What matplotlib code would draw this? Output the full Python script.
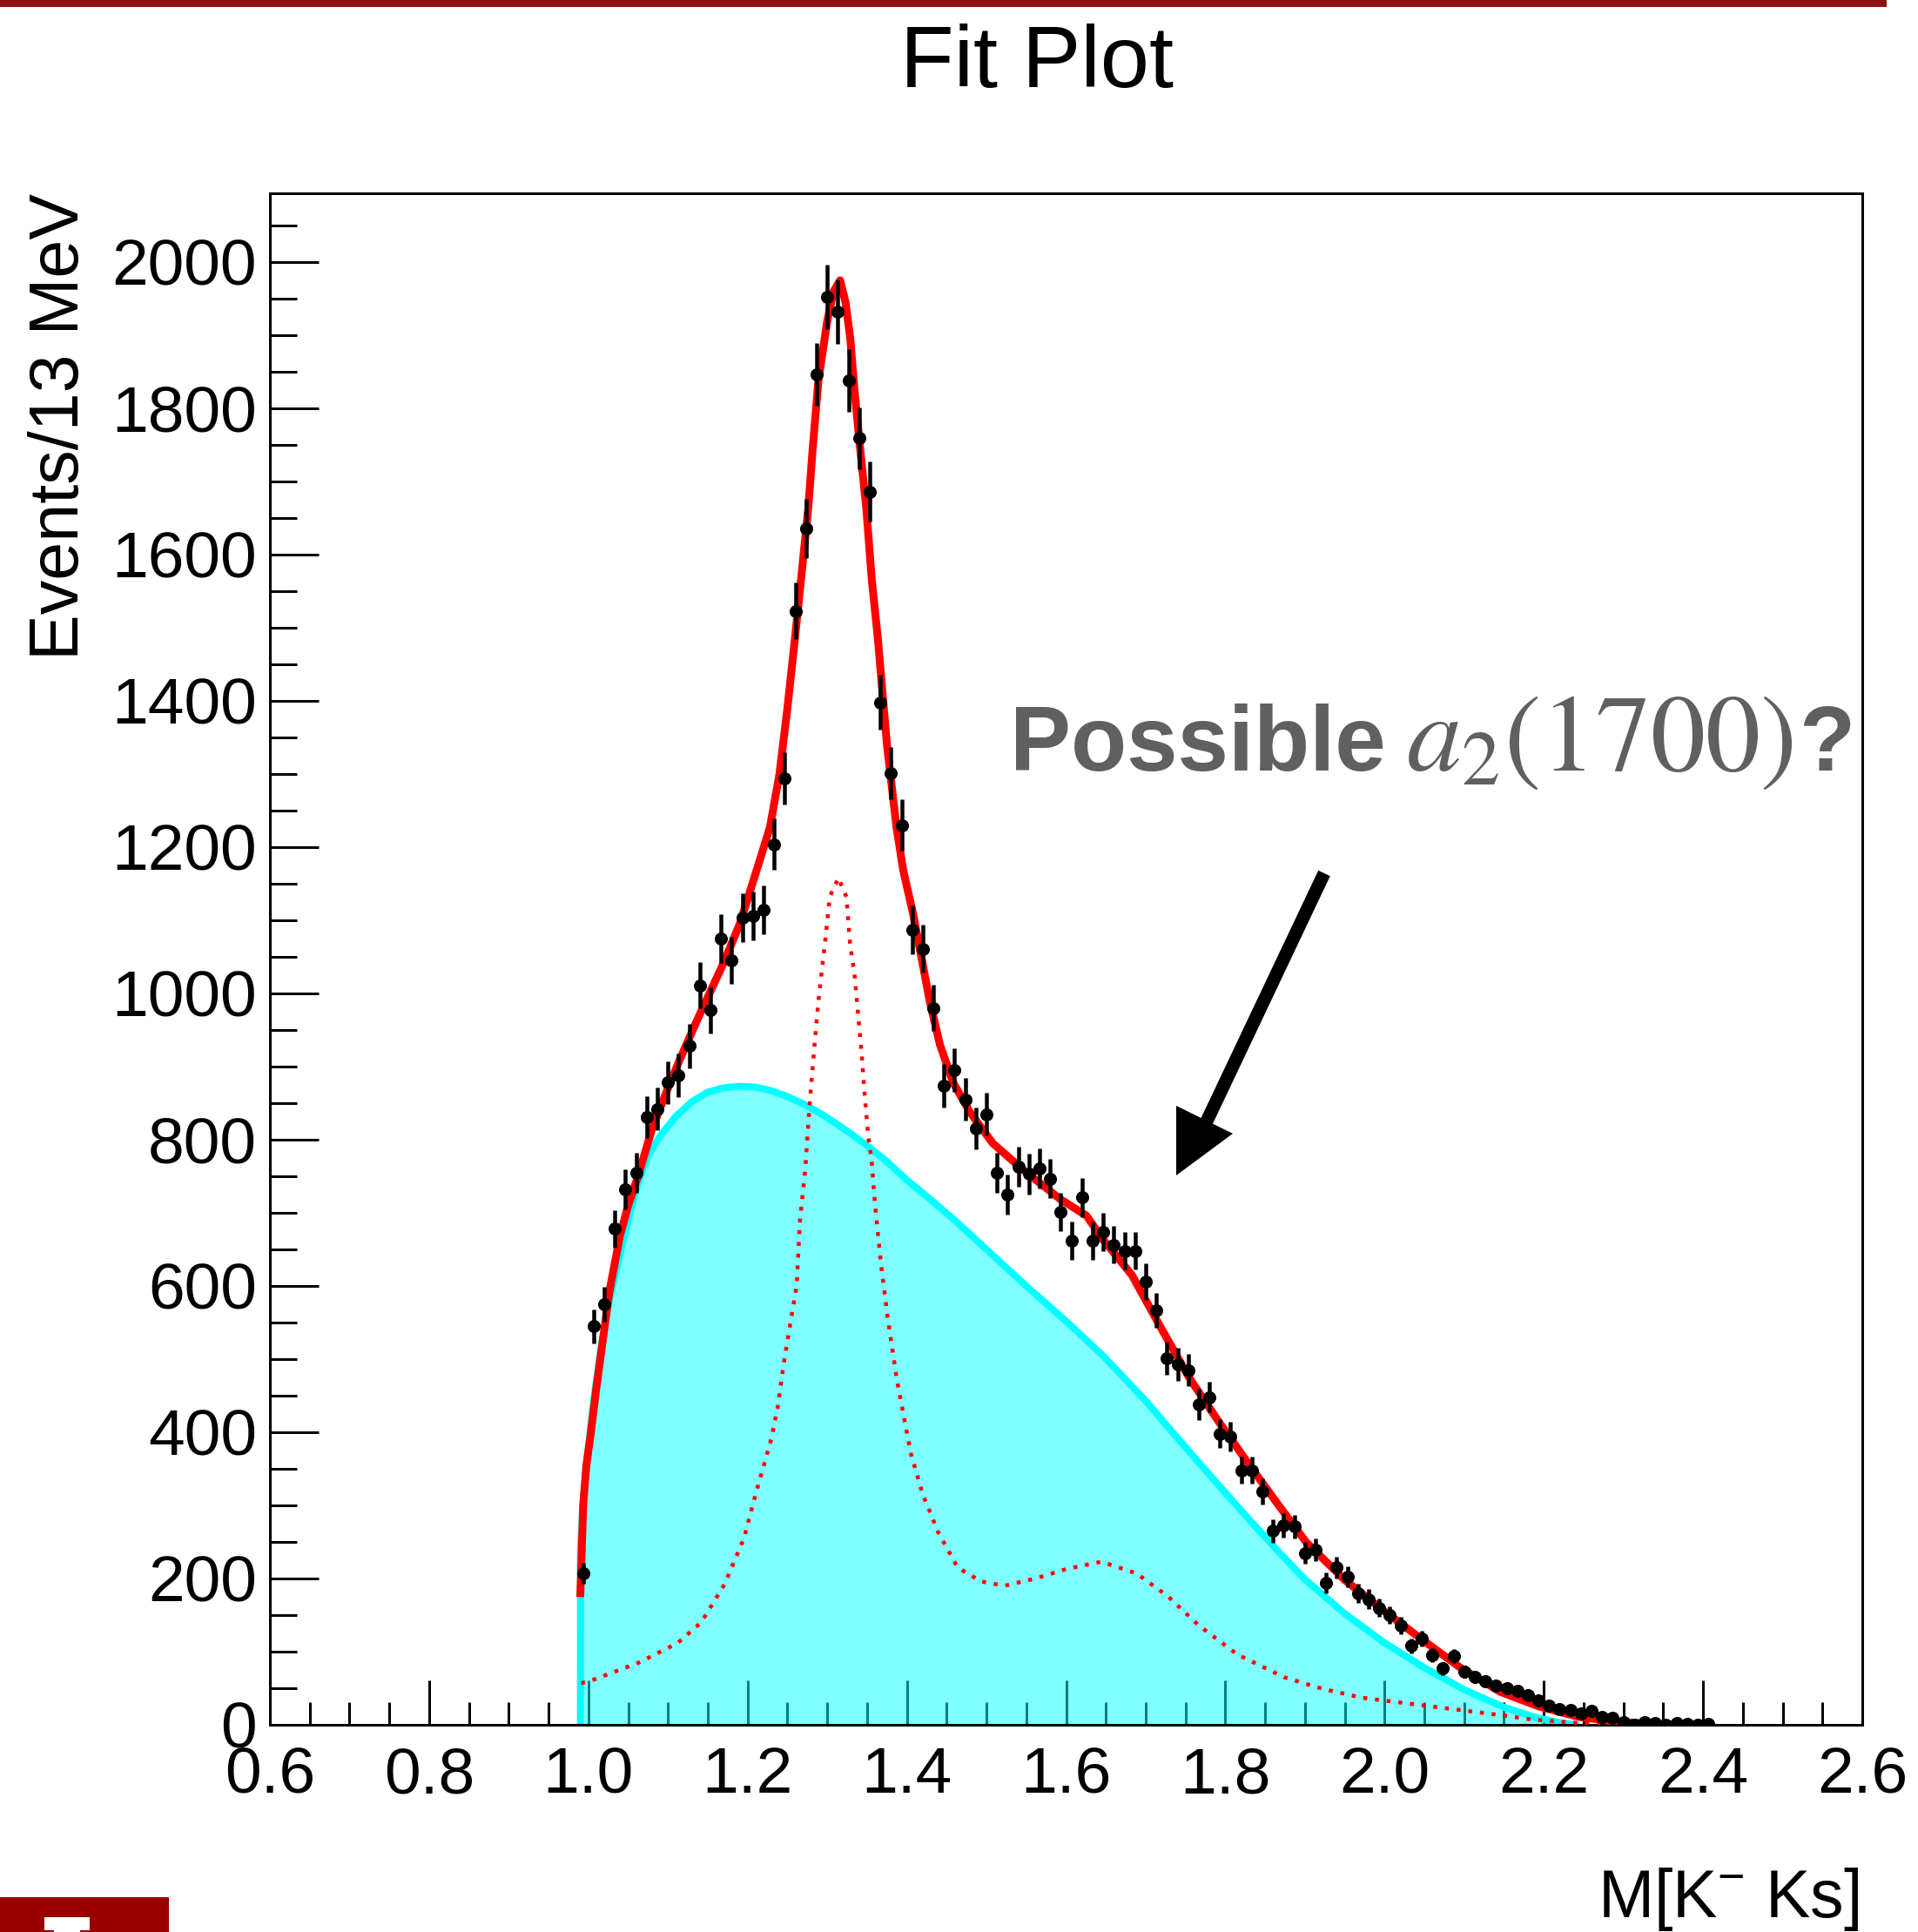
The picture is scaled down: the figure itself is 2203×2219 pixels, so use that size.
import numpy as np
import matplotlib
matplotlib.use("Agg")
import matplotlib.pyplot as plt
from matplotlib.ticker import MultipleLocator, FixedLocator, FormatStrFormatter
from matplotlib.patches import Rectangle, Polygon
from matplotlib.lines import Line2D
from matplotlib.transforms import IdentityTransform

# ---------------- data ----------------
hist_lo = 0.6
hist_hi = 2.6
n_bins = 150
first_filled_bin = 29

counts = [207, 545, 575, 678, 732, 755, 831, 842, 878, 888,
          928, 1011, 977, 1075, 1045, 1104, 1106, 1114, 1204, 1294,
          1523, 1636, 1846, 1952, 1932, 1838, 1759, 1686, 1398, 1301,
          1230, 1087, 1061, 980, 874, 895, 855, 815, 835, 755,
          725, 763, 753, 761, 747, 701, 662, 721, 662, 674,
          656, 648, 648, 606, 567, 501, 493, 485, 438, 448,
          398, 394, 348, 348, 319, 265, 273, 271, 235, 239,
          194, 215, 202, 180, 172, 160, 150, 136, 108, 118,
          95, 77, 94, 73, 65, 60, 53, 50, 47, 40,
          33, 26, 21, 20, 15, 19, 11, 10, 4, 0,
          3, 2, 0, 2, 1, 0, 1]

total_mass = [0.990, 0.9935, 0.9975, 1.0025, 1.010, 1.0265, 1.040, 1.050, 1.0627, 1.080,
              1.0998, 1.115, 1.136, 1.150, 1.170, 1.1905, 1.2112, 1.228, 1.240, 1.250,
              1.2594, 1.267, 1.2762, 1.2816, 1.2889, 1.2998, 1.308, 1.3162, 1.323, 1.329,
              1.3342, 1.3415, 1.349, 1.356, 1.3636, 1.375, 1.387, 1.3955, 1.408, 1.4183,
              1.4288, 1.4415, 1.4582, 1.479, 1.508, 1.5458, 1.5923, 1.6257, 1.646, 1.6826,
              1.719, 1.7555, 1.792, 1.8284, 1.865, 1.9013, 1.950, 1.9988, 2.0478, 2.0966,
              2.1455, 2.194, 2.243, 2.2918, 2.350, 2.399]
total_val = [180, 300, 355, 394, 460, 593, 670, 710, 751, 815,
             870, 910, 962, 995, 1042, 1096, 1168, 1227, 1300, 1390,
             1485, 1565, 1664, 1743, 1838, 1918, 1960, 1975, 1945, 1895,
             1825, 1743, 1664, 1565, 1485, 1340, 1227, 1168, 1108, 1049,
             989, 930, 878, 838, 795, 759, 719, 696, 664, 615,
             543, 473, 414, 358, 303, 250, 198, 156, 116, 77,
             45, 25, 11, 4, 1, 0]

bkg_mass = [0.990, 0.9901, 0.993, 0.997, 1.002, 1.008, 1.0155, 1.025, 1.0374, 1.050,
            1.0629, 1.075, 1.090, 1.110, 1.130, 1.150, 1.170, 1.190, 1.210, 1.230,
            1.250, 1.270, 1.290, 1.310, 1.330, 1.350, 1.375, 1.400, 1.430, 1.460,
            1.500, 1.550, 1.600, 1.646, 1.700, 1.740, 1.780, 1.828, 1.870, 1.901,
            1.950, 2.000, 2.050, 2.100, 2.150, 2.190, 2.220, 2.240]
bkg_val = [0, 240, 300, 350, 400, 455, 513, 575, 632, 690,
           743, 778, 805, 832, 852, 865, 871, 873, 872, 867,
           859, 849, 837, 823, 808, 792, 770, 745, 718, 690,
           650, 600, 552, 505, 443, 392, 342, 283, 233, 198,
           152, 112, 78, 48, 24, 10, 3, 0]

sig_mass = [0.991, 1.0001, 1.0245, 1.0635, 1.1124, 1.1417, 1.171, 1.1954, 1.210, 1.2295,
            1.2378, 1.2452, 1.2543, 1.2616, 1.2658, 1.2725, 1.278, 1.2847, 1.2889, 1.293,
            1.2972, 1.3032, 1.314, 1.3241, 1.3286, 1.3348, 1.339, 1.3432, 1.3473, 1.3515,
            1.3558, 1.360, 1.3673, 1.3764, 1.3873, 1.3982, 1.4053, 1.420, 1.4395, 1.4639,
            1.4932, 1.5225, 1.5615, 1.6005, 1.6445, 1.6884, 1.7275, 1.7665, 1.8153, 1.8739,
            1.9227, 1.9716, 2.030, 2.0887, 2.1473, 2.1863, 2.250, 2.300]
sig_val = [57, 59, 69, 85, 112, 140, 192, 255, 315, 390,
           434, 493, 553, 600, 690, 760, 850, 938, 989, 1029,
           1069, 1132, 1158, 1132, 1069, 1021, 969, 918, 858, 805,
           771, 712, 632, 553, 473, 410, 370, 315, 263, 215,
           196, 190, 200, 213, 223, 207, 176, 136, 96, 65,
           49, 37, 29, 21, 13, 7, 2, 0]

x_ticks = [0.6, 0.8, 1.0, 1.2, 1.4, 1.6, 1.8, 2.0, 2.2, 2.4, 2.6]
y_ticks = [0, 200, 400, 600, 800, 1000, 1200, 1400, 1600, 1800, 2000]

# ---------------- figure ----------------
W, H = 2203, 2219
DPI = 72
plt.rcParams['font.family'] = ['Liberation Sans', 'DejaVu Sans']
plt.rcParams['mathtext.fontset'] = 'custom'
plt.rcParams['mathtext.rm'] = 'Liberation Sans'
plt.rcParams['mathtext.it'] = 'Liberation Sans:italic'
plt.rcParams['mathtext.bf'] = 'Liberation Sans:bold'

fig = plt.figure(figsize=(W / DPI, H / DPI), dpi=DPI, facecolor='white')
ax = fig.add_axes([310 / W, (H - 1981) / H, 1829 / W, 1759 / H])
ax.set_axisbelow(True)

bw = (hist_hi - hist_lo) / n_bins
cnt = np.array(counts, dtype=float)
centers = hist_lo + (first_filled_bin + np.arange(len(cnt)) + 0.5) * bw

# background (cyan hatched fill)
ax.fill_between(bkg_mass, 0, bkg_val, facecolor='#00ffff', alpha=0.5, lw=0, zorder=1)
ax.plot(bkg_mass, bkg_val, color='#00ffff', lw=8, zorder=2, solid_joinstyle='round')
# signal (dotted)
ax.plot(sig_mass, sig_val, color='#ff0000', lw=4.5, ls=(0, (1, 2)), zorder=3)
# total fit
ax.plot(total_mass, total_val, color='#ff0000', lw=9, zorder=4, solid_joinstyle='round')
# data
ax.errorbar(centers, cnt, yerr=np.sqrt(cnt), xerr=bw / 2, fmt='o', color='black',
            ms=14, elinewidth=4.5, capsize=0, zorder=5)

ax.set_xlim(hist_lo, hist_hi)
ax.set_ylim(0, 2094)
ax.xaxis.set_major_locator(FixedLocator(x_ticks))
ax.xaxis.set_minor_locator(MultipleLocator(0.05))
ax.yaxis.set_major_locator(FixedLocator(y_ticks))
ax.yaxis.set_minor_locator(MultipleLocator(50))
ax.xaxis.set_major_formatter(FormatStrFormatter('%.1f'))
ax.yaxis.set_major_formatter(FormatStrFormatter('%d'))

ax.tick_params(which='both', direction='in', top=False, right=False, width=3, colors='black')
ax.tick_params(axis='x', which='major', length=51, labelsize=75, pad=24)
ax.tick_params(axis='x', which='minor', length=26)
ax.tick_params(axis='y', which='major', length=56, labelsize=75, pad=15)
ax.tick_params(axis='y', which='minor', length=31)
for s in ax.spines.values():
    s.set_linewidth(3)
    s.set_color('black')

# titles
fig.text(1191 / W, 1 - 100 / H, 'Fit Plot', ha='center', va='baseline', fontsize=101)
fig.text(90 / W, 1 - 222 / H, 'Events/13 MeV', rotation=90, rotation_mode='anchor',
         ha='right', va='baseline', fontsize=79)
fig.text(2135 / W, 1 - 2202 / H, r'M[K$^{-}$ Ks]', ha='right', va='baseline', fontsize=77)

# annotation
gray = '#606060'
base_y = 1 - 885 / H
fig.text(1160 / W, base_y, 'Possible', fontweight='bold', fontsize=105, color=gray,
         ha='left', va='baseline')
fig.text(1615 / W, base_y, r'$a_2(1700)$', fontsize=126, color=gray,
         math_fontfamily='stix', ha='left', va='baseline')
fig.text(2066 / W, base_y, '?', fontweight='bold', fontsize=105, color=gray,
         ha='left', va='baseline')

# arrow (figure pixel coordinates, origin bottom-left)
ident = IdentityTransform()
fig.add_artist(Line2D([1521, 1385], [H - 1003, H - 1290], color='black', lw=15,
                      transform=ident, solid_capstyle='butt'))
fig.add_artist(Polygon([[1351, H - 1350], [1351, H - 1270], [1416, H - 1302]],
                       closed=True, facecolor='black', edgecolor='none', transform=ident))

# decorations: top bar and bottom-left logo block
fig.add_artist(Rectangle((0, 1 - 7.5 / H), 2167 / W, 7.5 / H, transform=fig.transFigure,
                         facecolor='#8b1212', edgecolor='none'))
fig.add_artist(Rectangle((0, 0), 194 / W, 40 / H, transform=fig.transFigure,
                         facecolor='#990000', edgecolor='none'))
fig.add_artist(Rectangle((51 / W, 2 / H), 52 / W, 15 / H, transform=fig.transFigure,
                         facecolor='white', edgecolor='none'))
fig.add_artist(Rectangle((62 / W, 0), 30 / W, 3 / H, transform=fig.transFigure,
                         facecolor='white', edgecolor='none'))

fig.savefig('out.png', dpi=DPI, facecolor='white')
